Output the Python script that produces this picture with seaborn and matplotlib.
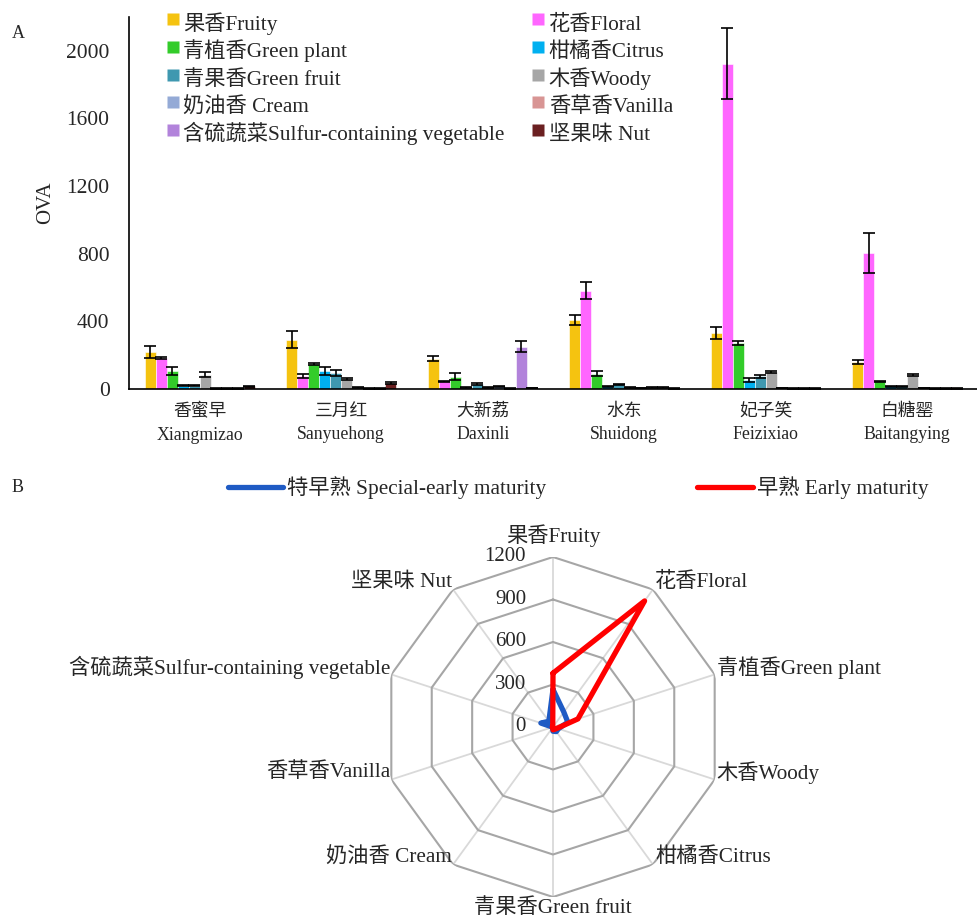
import numpy as np
import pandas as pd
import matplotlib
matplotlib.use("Agg")
import matplotlib.pyplot as plt
import seaborn as sns
from matplotlib.lines import Line2D

sns.set_style("white")
plt.rcParams["font.family"] = ["Liberation Serif", "Noto Sans CJK SC"]

# ---- data: panel A (OVA of each aroma type per cultivar) ----
cultivars = ["香蜜早\nXiangmizao", "三月红\nSanyuehong", "大新荔\nDaxinli",
             "水东\nShuidong", "妃子笑\nFeizixiao", "白糖罂\nBaitangying"]
aromas = ["果香Fruity", "花香Floral", "青植香Green plant", "柑橘香Citrus",
          "青果香Green fruit", "木香Woody", "奶油香 Cream", "香草香Vanilla",
          "含硫蔬菜Sulfur-containing vegetable", "坚果味 Nut"]
colors = ["#F5C310", "#FF66FF", "#33CC2A", "#00B0F0", "#3F98B0",
          "#A6A6A6", "#94AAD6", "#D89594", "#B283DB", "#6B2021"]

fruity = [220, 292, 180, 408, 330, 160]
floral = [185, 75, 45, 580, 1925, 805]
green_plant = [108, 148, 72, 90, 270, 47]
citrus = [20, 108, 8, 15, 55, 15]
green_fruit = [18, 95, 30, 28, 75, 15]
woody = [85, 60, 10, 10, 100, 82]
cream = [3, 8, 15, 6, 5, 5]
vanilla = [2, 3, 3, 8, 3, 3]
sulfur = [2, 2, 250, 8, 2, 3]
nut = [15, 35, 5, 3, 3, 3]

fruity_err = [37, 50, 14, 27, 35, 12]
floral_err = [5, 12, 3, 50, 210, 120]
green_plant_err = [24, 8, 20, 14, 12, 3]
citrus_err = [3, 25, 2, 2, 12, 2]
green_fruit_err = [3, 18, 5, 3, 8, 2]
woody_err = [15, 5, 2, 2, 5, 8]
cream_err = [1, 1, 2, 1, 1, 1]
vanilla_err = [1, 1, 1, 1, 1, 1]
sulfur_err = [1, 1, 32, 1, 1, 1]
nut_err = [2, 4, 1, 1, 1, 1]

# ---- data: panel B (radar, mean OVA by maturity group) ----
radar_axes = ["果香Fruity", "花香Floral", "青植香Green plant", "木香Woody",
              "柑橘香Citrus", "青果香Green fruit", "奶油香 Cream", "香草香Vanilla",
              "含硫蔬菜Sulfur-containing vegetable", "坚果味 Nut"]
special_early = [265, 130, 110, 40, 40, 30, 5, 3, 90, 50]
early = [380, 1100, 185, 30, 20, 20, 5, 5, 5, 3]
radar_ticks = [0, 300, 600, 900, 1200]

means = [fruity, floral, green_plant, citrus, green_fruit, woody, cream, vanilla, sulfur, nut]
errs = [fruity_err, floral_err, green_plant_err, citrus_err, green_fruit_err,
        woody_err, cream_err, vanilla_err, sulfur_err, nut_err]

rows = []
for a, vals, ers in zip(aromas, means, errs):
    for c, v, e in zip(cultivars, vals, ers):
        rows.append({"cultivar": c, "aroma": a, "ova": v, "err": e})
df = pd.DataFrame(rows)

W, H = 977, 917
fig = plt.figure(figsize=(W / 100, H / 100), dpi=100)

# ---- Panel A ----
ax = fig.add_axes([129 / W, 1 - 389 / H, 849 / W, 372 / H])
sns.barplot(data=df, x="cultivar", y="ova", hue="aroma", order=cultivars,
            hue_order=aromas, palette=colors, saturation=1, width=0.78,
            errorbar=None, edgecolor="white", linewidth=0.4, ax=ax)

bar_groups = list(ax.containers)
for i, cont in enumerate(bar_groups):
    sub = df[df["aroma"] == aromas[i]].set_index("cultivar").loc[cultivars]
    xs = [p.get_x() + p.get_width() / 2 for p in cont.patches]
    ax.errorbar(xs, sub["ova"].values, yerr=sub["err"].values, fmt="none",
                ecolor="black", elinewidth=1.2, capsize=4, capthick=1.2)

ax.set_xlim(-0.5, 5.5)
ax.set_ylim(0, 2200)
ax.set_yticks([0, 400, 800, 1200, 1600, 2000])
ax.set_xlabel("")
ax.set_ylabel("OVA", fontsize=15, labelpad=8)
ax.tick_params(axis="y", direction="in", length=5, width=1, labelsize=15.5, pad=14)
ax.tick_params(axis="x", which="major", length=0, labelsize=12.8, pad=10)
for lab in ax.get_xticklabels():
    lab.set_linespacing(1.5)
ax.set_xticks(np.arange(-0.5, 6, 1), minor=True)
ax.tick_params(axis="x", which="minor", direction="in", length=6, width=1)
for s in ["top", "right"]:
    ax.spines[s].set_visible(False)
for s in ["left", "bottom"]:
    ax.spines[s].set_color("black")
    ax.spines[s].set_linewidth(1.2)
if ax.get_legend() is not None:
    ax.get_legend().remove()

order = [0, 2, 4, 6, 8, 1, 3, 5, 7, 9]
handles = [Line2D([], [], marker="s", markersize=8, linestyle="none",
                  markerfacecolor=colors[k], markeredgecolor="none", label=aromas[k])
           for k in order]
fig.legend(handles=handles, loc="upper left", bbox_to_anchor=(167 / W, 1 - 9 / H),
           ncol=2, frameon=False, fontsize=15.3, handlelength=0.52, handleheight=1.62,
           handletextpad=0.25, labelspacing=0.0, columnspacing=1.3,
           borderpad=0, borderaxespad=0)

fig.text(12 / W, 1 - 33 / H, "A", fontsize=13, va="center")
fig.text(12 / W, 1 - 487 / H, "B", fontsize=13, va="center")

# ---- Panel B ----
cx, cy, r = 553, 727, 170
pax = fig.add_axes([(cx - r) / W, 1 - (cy + r) / H, 2 * r / W, 2 * r / H], projection="polar")
pax.set_theta_zero_location("N")
pax.set_theta_direction(-1)
pax.set_ylim(0, 1200)
pax.grid(False)
pax.spines["polar"].set_visible(False)
pax.set_xticks([])
pax.set_yticks([])
pax.patch.set_alpha(0)

theta = np.linspace(0, 2 * np.pi, len(radar_axes), endpoint=False)
closed = np.append(theta, theta[0])
for t in theta:
    pax.plot([t, t], [0, radar_ticks[-1]], color="#D9D9D9", lw=1.3, zorder=1)
for v in radar_ticks[1:]:
    pax.plot(closed, [v] * len(closed), color="#A6A6A6", lw=1.5, zorder=2)

pax.plot(closed, special_early + special_early[:1], color="#1F5BC4", lw=3.8, zorder=3)
pax.plot(closed, early + early[:1], color="#FF0000", lw=3.8, zorder=4)

for v in radar_ticks:
    pax.annotate(str(v), xy=(0, v), xytext=(-27, 0), textcoords="offset pixels",
                 ha="right", va="center", fontsize=15)

for t, lab in zip(theta, radar_axes):
    s, c = np.sin(t), np.cos(t)
    if abs(s) < 0.1:
        if c > 0:
            pax.annotate(lab, xy=(t, 1200), xytext=(0, 10), textcoords="offset pixels",
                         ha="center", va="bottom", fontsize=15.3, annotation_clip=False)
        else:
            pax.annotate(lab, xy=(t, 1200), xytext=(0, -1), textcoords="offset pixels",
                         ha="center", va="top", fontsize=15.3, annotation_clip=False)
    else:
        ha = "left" if s > 0 else "right"
        dx = 2 if s > 0 else -1
        pax.annotate(lab, xy=(t, 1200), xytext=(dx, 7), textcoords="offset pixels",
                     ha=ha, va="center", fontsize=15.3, annotation_clip=False)

leg_handles = [Line2D([], [], color="#1F5BC4", lw=3.8, label="特早熟 Special-early maturity"),
               Line2D([], [], color="#FF0000", lw=3.8, label="早熟 Early maturity")]
fig.legend(handles=leg_handles, loc="center", bbox_to_anchor=(578 / W, 1 - 488 / H),
           ncol=2, frameon=False, fontsize=15.3, handlelength=2.6, handletextpad=0.2,
           columnspacing=7.1)

fig.savefig("out.png", dpi=100)
